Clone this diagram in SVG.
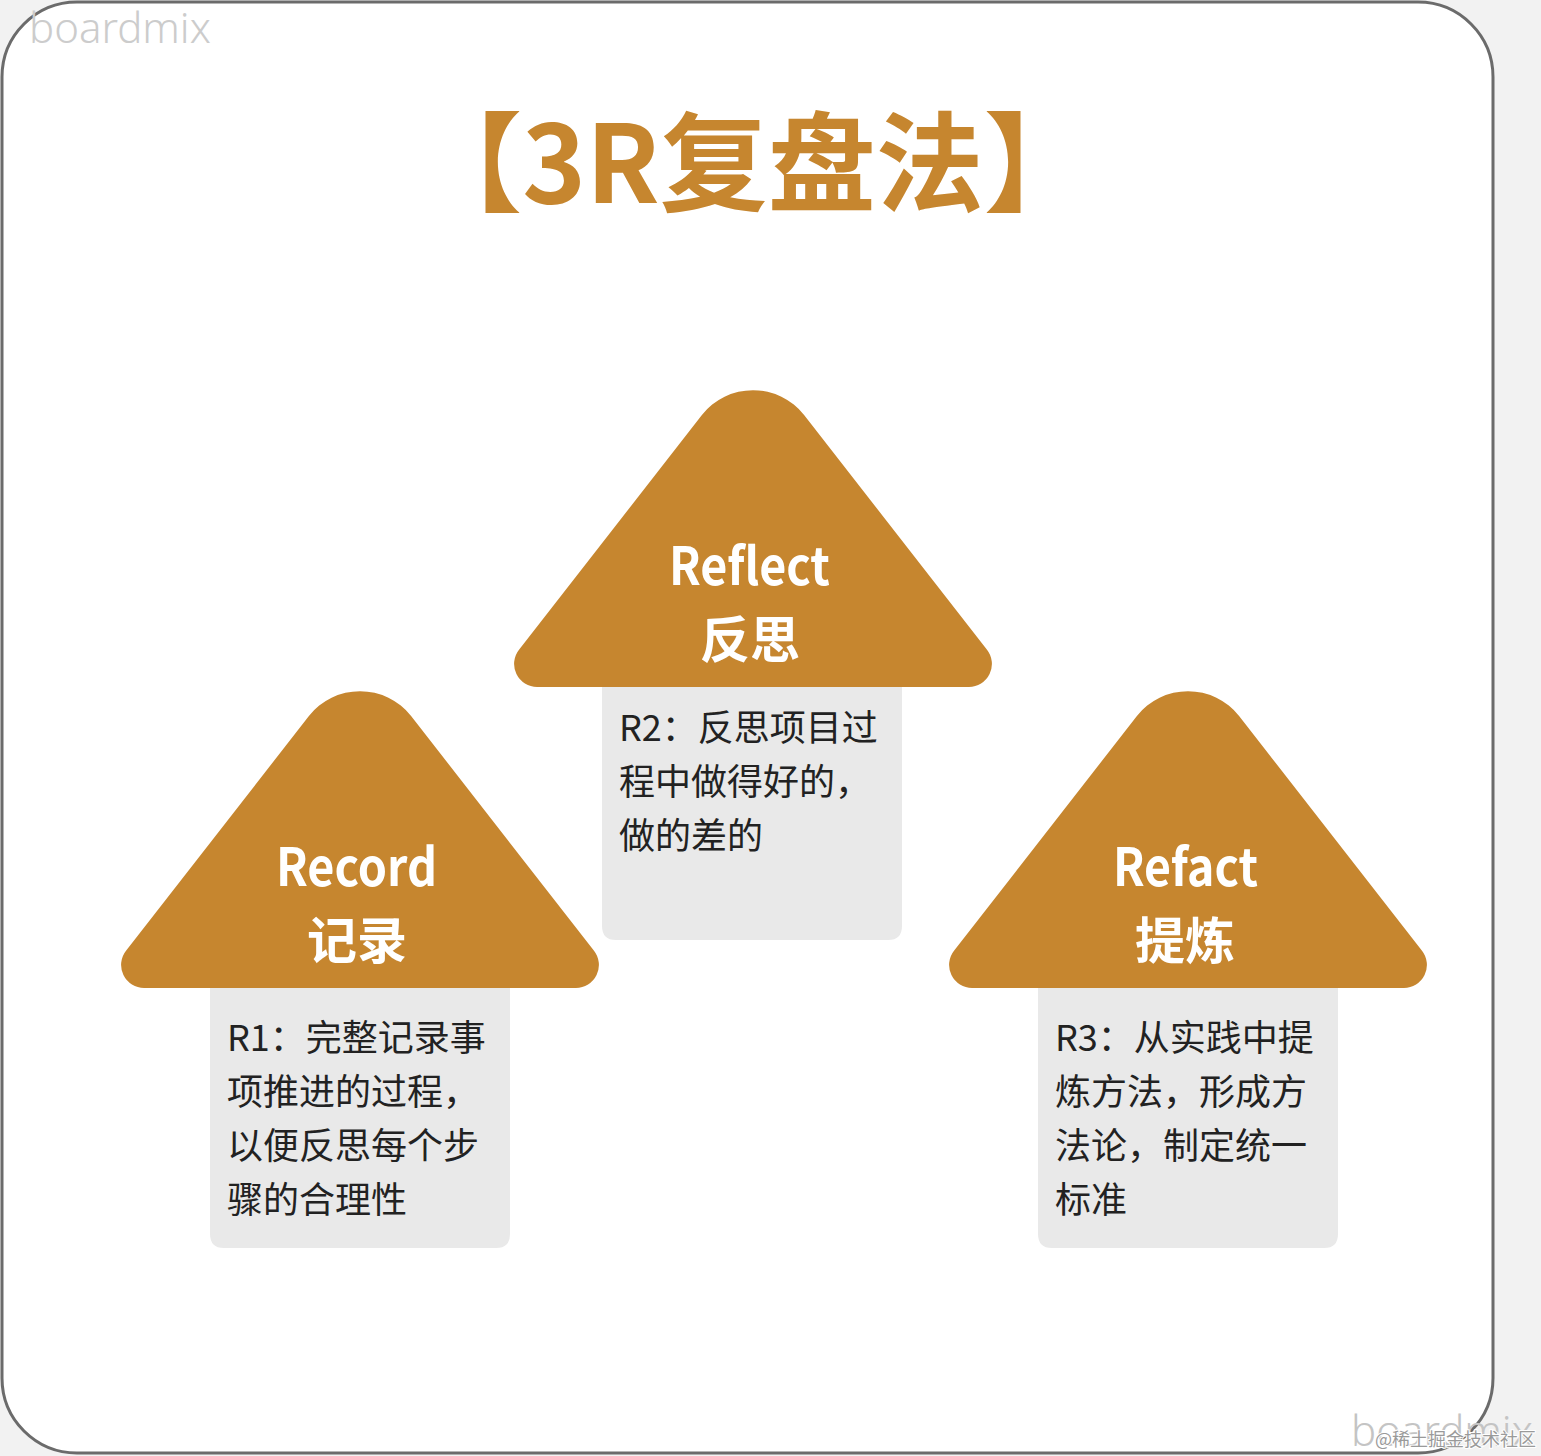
<svg xmlns="http://www.w3.org/2000/svg" xmlns:xlink="http://www.w3.org/1999/xlink" width="1541" height="1456" viewBox="0 0 1541 1456">
<style>
.bg{fill:#f2f2f2}
.frame{fill:#ffffff;stroke:#6b6b6b;stroke-width:3}
.tri{fill:#c6862f}
.box{fill:#e9e9e9}
.title{font-family:"Noto Sans CJK SC","Noto Sans",sans-serif;font-weight:700;font-size:108px;fill:#c6862f}
.en{font-family:"Noto Sans CJK SC","Noto Sans",sans-serif;font-weight:700;font-size:52px;fill:#ffffff}
.zh{font-family:"Noto Sans CJK SC","Noto Sans",sans-serif;font-weight:700;font-size:50px;fill:#ffffff}
.body{font-family:"Noto Sans CJK SC","Noto Sans",sans-serif;font-weight:400;font-size:36px;fill:#222222}
.wm{font-family:"Noto Sans","Noto Sans CJK SC",sans-serif;font-weight:300;font-size:42px;fill:#cccccc}
.wm2{font-family:"Noto Sans CJK SC",sans-serif;font-size:18px;fill:#9a9a9a;stroke:#ffffff;stroke-width:2;paint-order:stroke}
</style>
<defs>
<path id="tri" d="M -51.1,-272 A 65 65 0 0 1 51.1,-272 L 234,-37.2 A 23 23 0 0 1 215.8,0 L -215.8,0 A 23 23 0 0 1 -234,-37.2 Z"/>
</defs>
<rect class="bg" x="0" y="0" width="1541" height="1456"/>
<rect class="frame" x="2" y="2" width="1491" height="1451" rx="75" ry="75"/>
<text class="wm" x="29" y="43">boardmix</text>
<g id="title">
<text class="title" x="753" y="203" text-anchor="middle">【3R复盘法】</text>
</g>
<g id="connectors"></g>
<g id="reflect">
<path class="box" d="M 602,680 L 902,680 L 902,926 Q 902,940 888,940 L 616,940 Q 602,940 602,926 Z"/>
<use xlink:href="#tri" class="tri" transform="translate(753,687)"/>
<text class="en" x="669" y="585" textLength="161" lengthAdjust="spacingAndGlyphs">Reflect</text>
<text class="zh" x="750" y="658" text-anchor="middle">反思</text>
<text class="body" x="619" y="741">R2：反思项目过</text>
<text class="body" x="619" y="795">程中做得好的，</text>
<text class="body" x="619" y="849">做的差的</text>
</g>
<g id="record">
<path class="box" d="M 210,981 L 510,981 L 510,1234 Q 510,1248 496,1248 L 224,1248 Q 210,1248 210,1234 Z"/>
<use xlink:href="#tri" class="tri" transform="translate(360,988)"/>
<text class="en" x="276" y="886" textLength="161" lengthAdjust="spacingAndGlyphs">Record</text>
<text class="zh" x="357" y="959" text-anchor="middle">记录</text>
<text class="body" x="227" y="1051">R1：完整记录事</text>
<text class="body" x="227" y="1105">项推进的过程，</text>
<text class="body" x="227" y="1159">以便反思每个步</text>
<text class="body" x="227" y="1213">骤的合理性</text>
</g>
<g id="refact">
<path class="box" d="M 1038,981 L 1338,981 L 1338,1234 Q 1338,1248 1324,1248 L 1052,1248 Q 1038,1248 1038,1234 Z"/>
<use xlink:href="#tri" class="tri" transform="translate(1188,988)"/>
<text class="en" x="1113" y="886" textLength="145" lengthAdjust="spacingAndGlyphs">Refact</text>
<text class="zh" x="1185" y="959" text-anchor="middle">提炼</text>
<text class="body" x="1055" y="1051">R3：从实践中提</text>
<text class="body" x="1055" y="1105">炼方法，形成方</text>
<text class="body" x="1055" y="1159">法论，制定统一</text>
<text class="body" x="1055" y="1213">标准</text>
</g>
<text class="wm" x="1351" y="1446" style="fill:#c4c4c4">boardmix</text>
<text class="wm2" x="1375" y="1446">@稀土掘金技术社区</text>
</svg>
